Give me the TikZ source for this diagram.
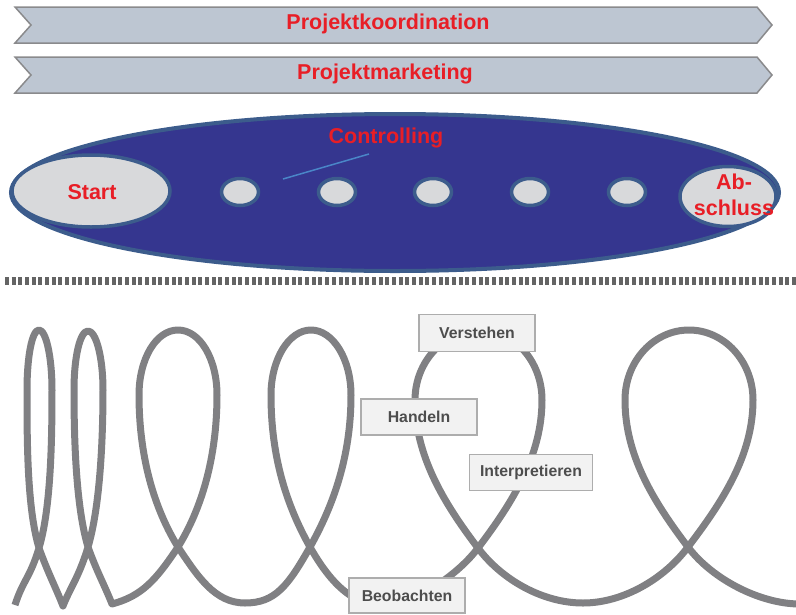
\documentclass[tikz,border=0pt]{standalone}
\usepackage{fontspec}
\setmainfont{Liberation Sans}
\usetikzlibrary{shapes.geometric}

\definecolor{barfill}{RGB}{189,198,210}
\definecolor{barline}{RGB}{138,138,140}
\definecolor{ptred}{RGB}{232,30,38}
\definecolor{deepblue}{RGB}{53,54,143}
\definecolor{rimblue}{RGB}{60,92,140}
\definecolor{palegrey}{RGB}{216,217,219}
\definecolor{leaderblue}{RGB}{74,134,200}
\definecolor{sepgrey}{RGB}{100,100,100}
\definecolor{coilgrey}{RGB}{128,128,131}
\definecolor{tagfill}{RGB}{242,242,242}
\definecolor{tagline}{RGB}{173,173,173}
\definecolor{tagtext}{RGB}{77,77,77}

\begin{document}
\begin{tikzpicture}[x=1pt,y=-1pt,
  chevron/.style={fill=barfill,draw=barline,line width=1.5pt,line join=miter},
  bartext/.style={text=ptred,font=\fontsize{21.5}{26}\selectfont\bfseries,inner sep=0pt},
  phase/.style={ellipse,fill=palegrey,draw=rimblue,line width=3.5pt,inner sep=0pt},
  milestone/.style={phase,minimum width=37pt,minimum height=27pt},
  redlabel/.style={text=ptred,font=\fontsize{21.5}{26}\selectfont\bfseries,inner sep=0pt,align=center},
  coil/.style={draw=coilgrey,line width=7pt,line join=round},
  tag/.style={rectangle,fill=tagfill,draw=tagline,line width=1.5pt,inner sep=0pt,
    text=tagtext,font=\fontsize{15.8}{18}\selectfont\bfseries,minimum height=36pt}
]
\useasboundingbox (0,0) rectangle (796,614);

% two chevron bars across the top
\draw[chevron] (15,7) -- (757,7) -- (772,25) -- (757,43) -- (15,43) -- (31,25) -- cycle;
\node[bartext] (koord) at (388,24) {Projektkoordination};
\draw[chevron] (15,57) -- (757,57) -- (772,75) -- (757,93) -- (15,93) -- (31,75) -- cycle;
\node[bartext] (mark) at (385,74) {Projektmarketing};

% project phase body with start, milestones and closing
\node[ellipse,fill=deepblue,draw=rimblue,line width=4pt,inner sep=0pt,
      minimum width=768pt,minimum height=157pt] (body) at (395,192.5) {};
\node[phase,minimum width=158pt,minimum height=72pt] (start) at (91,191) {};
\node[redlabel] (starttext) at (92,192) {Start};
\node[milestone] (m1) at (240,192) {};
\node[milestone] (m2) at (337,192) {};
\node[milestone] (m3) at (433,192) {};
\node[milestone] (m4) at (530,192) {};
\node[milestone] (m5) at (627,192) {};
\node[phase,minimum width=96pt,minimum height=60pt] (end) at (728,196.5) {};
\node[redlabel] (endtext) at (734,195) {Ab-\\schluss};

\node[redlabel] (ctrl) at (386,138) {Controlling};
\coordinate (leadA) at (283,179);
\coordinate (leadB) at (369,154);
\draw[leaderblue,line width=1.5pt] (leadA) -- (leadB);

% dashed separator
\coordinate (sepL) at (5,281);
\coordinate (sepR) at (796,281);
\draw[sepgrey,line width=8pt,dash pattern=on 4pt off 2.67pt] (sepL) -- (sepR);

% widening coil of learning loops
\draw[coil]
 (15,605) .. controls +(8,-25) and +(-9,30) .. (39,548)
 .. controls +(12,-40) and +(0,50) .. (52,390)
 .. controls +(0,-33) and +(7,0) .. (39,330)
 .. controls +(-7,0) and +(0,-33) .. (27,390)
 .. controls +(0,50) and +(-12,-40) .. (39,548)
 .. controls +(9,25) and +(-7,-18) .. (63,606)
 .. controls +(7,-18) and +(-9,30) .. (88,547)
 .. controls +(12,-40) and +(0,50) .. (103,390)
 .. controls +(0,-33) and +(8,0) .. (88,331)
 .. controls +(-8,0) and +(0,-33) .. (74,390)
 .. controls +(0,50) and +(-12,-40) .. (88,547)
 .. controls +(9,25) and +(-8,-20) .. (112,604)
 .. controls +(30,-8) and +(-22,33) .. (178,547)
 .. controls +(27,-44) and +(0,55) .. (217,395)
 .. controls +(0,-36) and +(22,0) .. (178,330)
 .. controls +(-22,0) and +(0,-36) .. (139,395)
 .. controls +(0,55) and +(-27,-44) .. (178,547)
 .. controls +(20,30) and +(-30,0) .. (245,603)
 .. controls +(30,0) and +(-22,39) .. (310,547)
 .. controls +(27,-48) and +(0,55) .. (351,395)
 .. controls +(0,-36) and +(22,0) .. (311,330)
 .. controls +(-22,0) and +(0,-36) .. (271,395)
 .. controls +(0,55) and +(-27,-48) .. (310,547)
 .. controls +(22,39) and +(-30,0) .. (385,606)
 .. controls +(22,0) and +(-24,32) .. (478,548)
 .. controls +(35,-46) and +(0,55) .. (542,400)
 .. controls +(0,-39) and +(34,0) .. (480,330)
 .. controls +(-35,0) and +(0,-39) .. (415,400)
 .. controls +(0,55) and +(-35,-46) .. (478,548)
 .. controls +(24,32) and +(-40,0) .. (583,603)
 .. controls +(40,0) and +(-24,32) .. (688,547)
 .. controls +(35,-46) and +(0,55) .. (753,400)
 .. controls +(0,-39) and +(35,0) .. (689,330)
 .. controls +(-35,0) and +(0,-39) .. (625,400)
 .. controls +(0,55) and +(-35,-46) .. (688,547)
 .. controls +(24,32) and +(-40,0) .. (800,604);

% labels of the learning cycle
\node[tag,minimum width=116pt,minimum height=37pt] (verstehen) at (477,333) {Verstehen};
\node[tag,minimum width=116pt] (handeln) at (419,417) {Handeln};
\node[tag,minimum width=123pt] (interpret) at (531,472.5) {Interpretieren};
\node[tag,minimum width=116pt,minimum height=35pt] (beob) at (407,595.5) {Beobachten};
\end{tikzpicture}
\end{document}
